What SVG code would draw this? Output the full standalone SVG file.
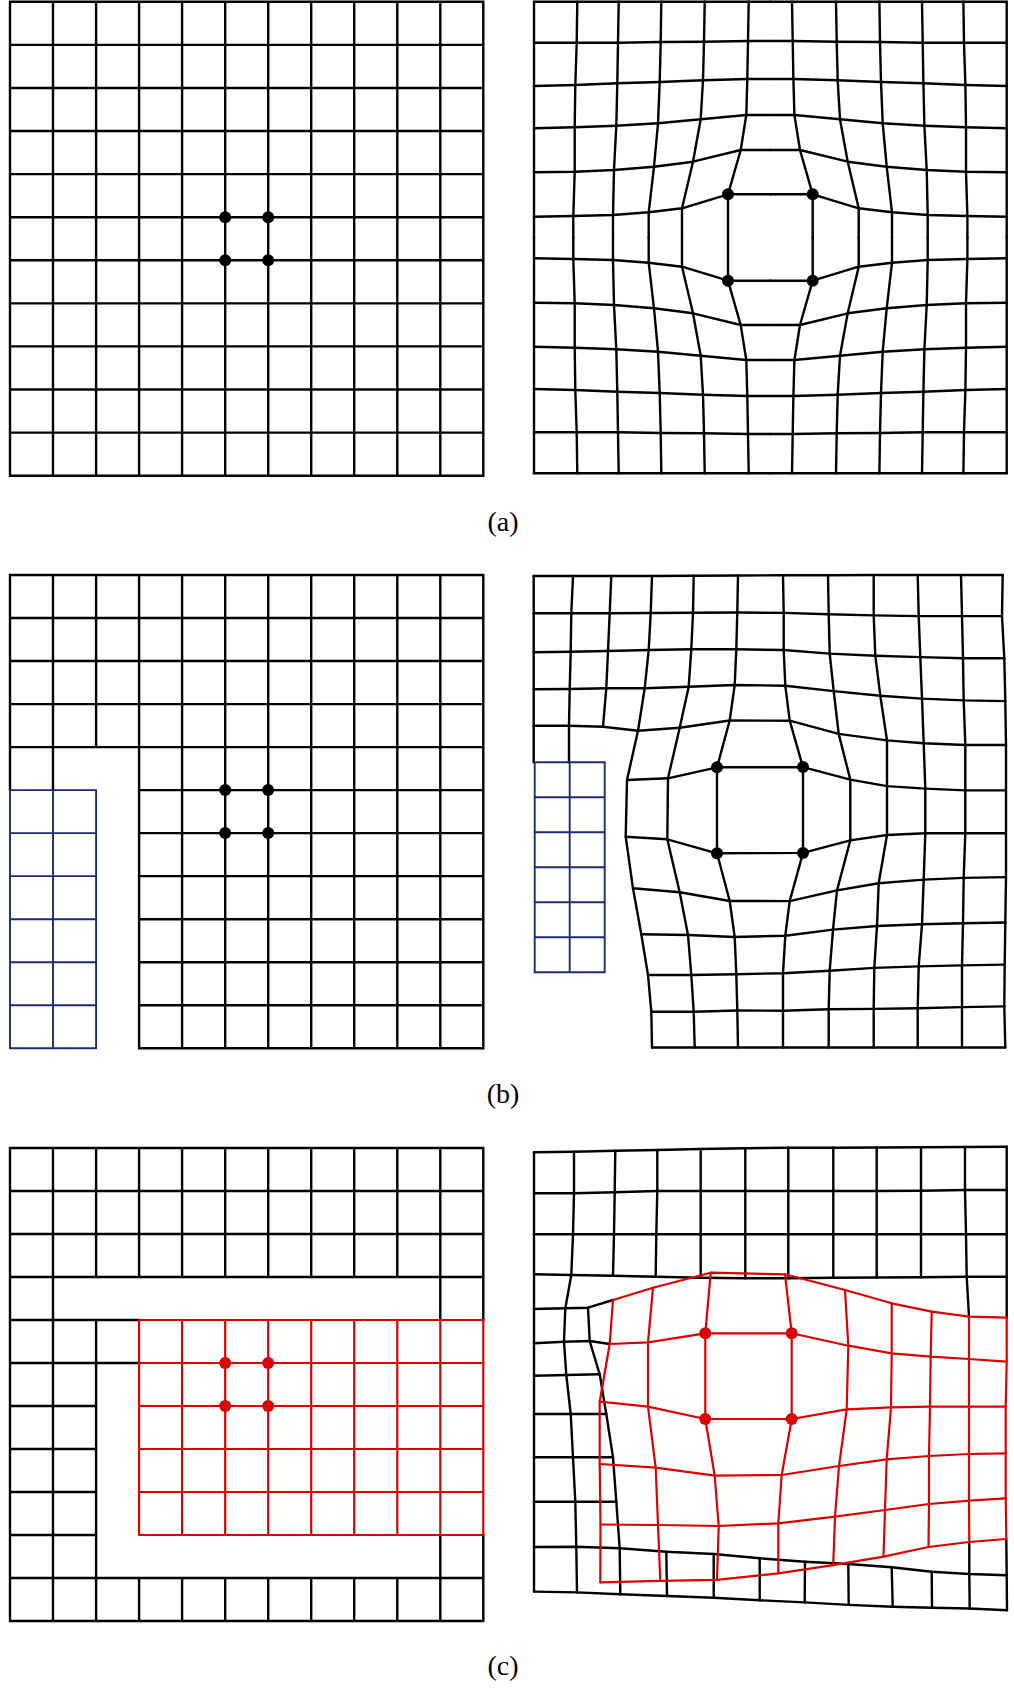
<svg xmlns="http://www.w3.org/2000/svg" xmlns:xlink="http://www.w3.org/1999/xlink" width="1014" height="1692" viewBox="0 0 1014 1692">
<style>
.k{fill:none;stroke:#000;stroke-width:2.4;stroke-linejoin:round;stroke-linecap:square}
.kr{fill:none;stroke:#000;stroke-width:2.4;stroke-linejoin:round;stroke-linecap:round}
.r{fill:none;stroke:#dc0000;stroke-width:2.2;stroke-linejoin:round;stroke-linecap:round}
.rs{fill:none;stroke:#dc0000;stroke-width:2.2;stroke-linecap:square}
.b{fill:none;stroke:#1c2a78;stroke-width:1.9;stroke-linecap:square}
.dk{fill:#000}
.dr{fill:#dc0000}
.lbl{font-family:"Liberation Serif","Times New Roman",serif;font-size:28px;text-anchor:middle;fill:#000}
</style>
<defs>
<g id="aq" class="kr">
<polyline points="534,1.7 770.35,1.7"/>
<polyline points="534,42.7 576.7,42.7 618,42.7 660.7,42 704,41.7 748,41 770.35,41"/>
<polyline points="534,86 575.3,85 617.3,83.3 659.7,82 703,80.3 747.3,79 770.35,79"/>
<polyline points="534,128.3 574.7,127.3 616.3,125.7 658,123.3 700.7,119.3 746.3,115 770.35,115"/>
<polyline points="534,172.3 574.7,171.7 614,170 654,166.7 693,161.7 740.7,150 770.35,150"/>
<polyline points="534,216.7 573.3,216 613,215 648.7,212.3 682,208.3 728,194.3 770.35,194.3"/>
<polyline points="534,1.7 534,237.5"/>
<polyline points="577.3,1.7 576.7,42.7 575.3,85 574.7,127.3 574.7,171.7 573.3,216 573.3,237.5"/>
<polyline points="618.7,1.7 618,42.7 617.3,83.3 616.3,125.7 614,170 613,215 613,237.5"/>
<polyline points="661.3,1.7 660.7,42 659.7,82 658,123.3 654,166.7 648.7,212.3 648.7,237.5"/>
<polyline points="704.7,1.7 704,41.7 703,80.3 700.7,119.3 693,161.7 682,208.3 682,237.5"/>
<polyline points="748.7,1.7 748,41 747.3,79 746.3,115 740.7,150 728,194.3 728,237.5"/>
</g>
</defs>

<g id="panel-a-left">
<path class="k" d="M10 1.8H483.3M10 44.9H483.3M10 88H483.3M10 131H483.3M10 174.1H483.3M10 217.2H483.3M10 260.3H483.3M10 303.4H483.3M10 346.4H483.3M10 389.5H483.3M10 432.6H483.3M10 475.7H483.3
M10 1.8V475.7M53 1.8V475.7M96.1 1.8V475.7M139.1 1.8V475.7M182.1 1.8V475.7M225.2 1.8V475.7M268.2 1.8V475.7M311.2 1.8V475.7M354.2 1.8V475.7M397.3 1.8V475.7M440.3 1.8V475.7M483.3 1.8V475.7"/>
<circle class="dk" cx="225.2" cy="217.2" r="6"/><circle class="dk" cx="268.2" cy="217.2" r="6"/>
<circle class="dk" cx="225.2" cy="260.3" r="6"/><circle class="dk" cx="268.2" cy="260.3" r="6"/>
</g>

<g id="panel-a-right">
<use xlink:href="#aq" href="#aq"/>
<use xlink:href="#aq" href="#aq" transform="matrix(-1 0 0 1 1540.7 0)"/>
<use xlink:href="#aq" href="#aq" transform="matrix(1 0 0 -1 0 475)"/>
<use xlink:href="#aq" href="#aq" transform="matrix(-1 0 0 -1 1540.7 475)"/>
<circle class="dk" cx="728" cy="194.3" r="6"/><circle class="dk" cx="812.7" cy="194.3" r="6"/>
<circle class="dk" cx="728" cy="280.7" r="6"/><circle class="dk" cx="812.7" cy="280.7" r="6"/>
</g>

<g id="panel-b-left">
<path class="k" d="M10 575H483.3M10 618H483.3M10 661H483.3M10 704.1H483.3M10 747.1H483.3
M139.1 790.1H483.3M139.1 833.1H483.3M139.1 876.1H483.3M139.1 919.2H483.3M139.1 962.2H483.3M139.1 1005.2H483.3M139.1 1048.2H483.3
M10 575V790.1M53 575V790.1M96.1 575V747.1
M139.1 575V1048.2M182.1 575V1048.2M225.2 575V1048.2M268.2 575V1048.2M311.2 575V1048.2M354.2 575V1048.2M397.3 575V1048.2M440.3 575V1048.2M483.3 575V1048.2"/>
<path class="b" d="M10 790.1H96.1M10 833.1H96.1M10 876.1H96.1M10 919.2H96.1M10 962.2H96.1M10 1005.2H96.1M10 1048.2H96.1M10 790.1V1048.2M53 790.1V1048.2M96.1 790.1V1048.2"/>
<circle class="dk" cx="225.2" cy="790.1" r="6"/><circle class="dk" cx="268.2" cy="790.1" r="6"/>
<circle class="dk" cx="225.2" cy="833.1" r="6"/><circle class="dk" cx="268.2" cy="833.1" r="6"/>
</g>

<g id="panel-b-right">
<g class="kr">
<polyline points="533.7,576 573,576 611.3,576 652,576 693.7,575.8 738,575.5 783,575.3 828,575.2 873.7,575 917.7,575 961,575 1002.7,575"/>
<polyline points="533.7,613.3 571.3,613.3 609.7,613.3 650.7,613 693,612.7 737.3,612.5 783.7,612.9 828.7,614.3 873.7,615.4 918.7,616.1 962,616.1 1002,616.1"/>
<polyline points="533.7,652.3 570.7,651.7 608,651 648.7,650 691.3,649.3 736.3,649.3 783.7,650 829.7,653.6 875.3,655.7 920.3,657.1 963,658.2 1004.3,658.2"/>
<polyline points="533.7,689.3 569.7,689 606.3,688.3 644.7,688.3 688.7,686.7 734.7,685 785.3,685.7 833.7,691.1 880.3,695.7 922,698.6 963.7,700.4 1005.3,701.1"/>
<polyline points="533.7,725.7 569,725.7 603,726.7 638,730.7 679.7,727.7 729.7,720.5 789.7,720.7 838.7,733.9 887,740.4 923.7,743.2 965.3,745 1006,745"/>
<polyline points="627,780 668,778.3 717,767.3 803,767.1 850.3,779.6 887,786.1 925.3,788.6 965.3,790.4 1006,790.4"/>
<polyline points="625.7,836.7 667.3,839.3 717,853.3 803,852.9 850.3,840.4 887,835 925.3,833.2 965.3,833.2 1006,833.2"/>
<polyline points="633,888.3 679.7,892.3 729.7,901 789.7,901.1 837,890.4 878.7,883.2 923.7,879.6 963.7,877.9 1006,877.1"/>
<polyline points="641.3,934.3 688,935 734.7,937 785.3,935.7 833,929.6 877,926 922,924.3 963,923.2 1005.3,922.5"/>
<polyline points="648,975 691.3,975 736.3,974.2 783,973.2 829.7,970.7 874.3,967.9 918.7,966.4 962,965.4 1004.7,964.6"/>
<polyline points="651.3,1011.7 693.7,1011.7 737.3,1010.5 783,1010.7 828.7,1009.3 873.7,1008.9 917.7,1008.2 962,1007.1 1004.3,1006.4"/>
<polyline points="652,1047.5 694.7,1047.5 738,1047.5 783,1047.5 828.7,1047.5 873.7,1047.5 917.7,1047.5 962,1047.5 1005.3,1047.5"/>
<polyline points="533.7,576 533.7,762.3"/>
<polyline points="573,576 571.3,613.3 570.7,651.7 569.7,689 569,725.7 569,762.3"/>
<polyline points="611.3,576 609.7,613.3 608,651 606.3,688.3 603,726.7"/>
<polyline points="652,576 650.7,613 648.7,650 644.7,688.3 638,730.7 627,780 625.7,836.7 633,888.3 641.3,934.3 648,975 651.3,1011.7 652,1047.5"/>
<polyline points="693.7,575.8 693,612.7 691.3,649.3 688.7,686.7 679.7,727.7 668,778.3 667.3,839.3 679.7,892.3 688,935 691.3,975 693.7,1011.7 694.7,1047.5"/>
<polyline points="738,575.5 737.3,612.5 736.3,649.3 734.7,685 729.7,720.5 717,767.3 717,853.3 729.7,901 734.7,937 736.3,974.2 737.3,1010.5 738,1047.5"/>
<polyline points="783,575.3 783.7,612.9 783.7,650 785.3,685.7 789.7,720.7 803,767.1 803,852.9 789.7,901.1 785.3,935.7 783,973.2 783,1010.7 783,1047.5"/>
<polyline points="828,575.2 828.7,614.3 829.7,653.6 833.7,691.1 838.7,733.9 850.3,779.6 850.3,840.4 837,890.4 833,929.6 829.7,970.7 828.7,1009.3 828.7,1047.5"/>
<polyline points="873.7,575 873.7,615.4 875.3,655.7 880.3,695.7 887,740.4 887,786.1 887,835 878.7,883.2 877,926 874.3,967.9 873.7,1008.9 873.7,1047.5"/>
<polyline points="917.7,575 918.7,616.1 920.3,657.1 922,698.6 923.7,743.2 925.3,788.6 925.3,833.2 923.7,879.6 922,924.3 918.7,966.4 917.7,1008.2 917.7,1047.5"/>
<polyline points="961,575 962,616.1 963,658.2 963.7,700.4 965.3,745 965.3,790.4 965.3,833.2 963.7,877.9 963,923.2 962,965.4 962,1007.1 962,1047.5"/>
<polyline points="1002.7,575 1002,616.1 1004.3,658.2 1005.3,701.1 1006,745 1006,790.4 1006,833.2 1006,877.1 1005.3,922.5 1004.7,964.6 1004.3,1006.4 1005.3,1047.5"/>
</g>
<path class="b" d="M534.7 762.3H604.7M534.7 797.3H604.7M534.7 832.3H604.7M534.7 867.3H604.7M534.7 902.3H604.7M534.7 937.3H604.7M534.7 972.3H604.7M534.7 762.3V972.3M569.7 762.3V972.3M604.7 762.3V972.3"/>
<circle class="dk" cx="717" cy="767.3" r="6"/><circle class="dk" cx="803" cy="767.1" r="6"/>
<circle class="dk" cx="717" cy="853.3" r="6"/><circle class="dk" cx="803" cy="852.9" r="6"/>
</g>

<g id="panel-c-left">
<path class="k" d="M10 1148H483.3M10 1191H483.3M10 1234H483.3M10 1277H483.3
M10 1320H139.1M10 1363H139.1M10 1406H96.1M10 1449H96.1M10 1492H96.1M10 1535H96.1
M10 1578H483.3M10 1621H483.3
M10 1148V1621M53 1148V1621M96.1 1148V1277M96.1 1320V1621
M139.1 1148V1277M182.1 1148V1277M225.2 1148V1277M268.2 1148V1277M311.2 1148V1277M354.2 1148V1277M397.3 1148V1277
M139.1 1578V1621M182.1 1578V1621M225.2 1578V1621M268.2 1578V1621M311.2 1578V1621M354.2 1578V1621M397.3 1578V1621
M440.3 1148V1320M483.3 1148V1320M440.3 1535V1621M483.3 1535V1621"/>
<path class="rs" d="M139.1 1320H483.3M139.1 1363H483.3M139.1 1406H483.3M139.1 1449H483.3M139.1 1492H483.3M139.1 1535H483.3
M139.1 1320V1535M182.1 1320V1535M225.2 1320V1535M268.2 1320V1535M311.2 1320V1535M354.2 1320V1535M397.3 1320V1535M440.3 1320V1535M483.3 1320V1535"/>
<circle class="dr" cx="225.2" cy="1363" r="6"/><circle class="dr" cx="268.2" cy="1363" r="6"/>
<circle class="dr" cx="225.2" cy="1406" r="6"/><circle class="dr" cx="268.2" cy="1406" r="6"/>
</g>

<g id="panel-c-right">
<g class="kr">
<polyline points="534,1152.3 574,1151.7 615.3,1150.7 657.3,1150 700.7,1149 745.3,1148.3 788.3,1147.7 833.3,1147.7 876.7,1147.5 921,1147.3 965,1147 1006.7,1146.7"/>
<polyline points="534,1193.3 574,1193.3 614.7,1192.3 657.3,1191 700.7,1191 745.3,1191 788.3,1191 833.3,1191 876.7,1191 921,1190.7 965,1190 1006.7,1190"/>
<polyline points="534,1234.3 573,1234.3 614,1234.3 656.3,1234.3 700.7,1234.3 745.3,1234.3 788.3,1234.3 833.3,1234.3 876.7,1234.3 921,1234.3 966,1234.3 1006.7,1234.3"/>
<polyline points="534,1274.3 571.3,1275 613,1275.7 655.7,1276.7 700.7,1277.7 745.3,1278.3 788.3,1278.3 833.3,1277.7 876.7,1277.5 921,1277.2 966.7,1276.7 1006.7,1276.7"/>
<polyline points="534,1309 565.3,1308.3 588,1307.7 613,1300"/>
<polyline points="534,1343.3 564,1341.7 589.7,1341 609.7,1344"/>
<polyline points="534,1375.7 566.3,1375 599.7,1374.3"/>
<polyline points="534,1414 570.7,1414 606.3,1414"/>
<polyline points="534,1457.3 573,1457.3 613,1457.3"/>
<polyline points="534,1501.7 575.3,1501.7 616.3,1501.7"/>
<polyline points="534,1547 576.3,1546.7 619.7,1548.3 666.3,1551.7 713.7,1554 759.7,1558.3 805,1561.7 848.3,1564 891.7,1567.3 931.7,1571.7 969.3,1574 1006.7,1575.3"/>
<polyline points="534,1591.6 577,1592.4 620.3,1594.2 667,1596 713.7,1597.7 759.7,1600.3 804.7,1602.4 848.7,1604.9 892.7,1606.7 932,1607.8 969.7,1608.5 1007,1610.3"/>
<polyline points="534,1152.3 534,1591.6"/>
<polyline points="574,1151.7 574,1193.3 573,1234.3 571.3,1275 565.3,1308.3 564,1341.7 566.3,1375 570.7,1414 573,1457.3 575.3,1501.7 576.3,1546.7 577,1592.4"/>
<polyline points="615.3,1150.7 614.7,1192.3 614,1234.3 613,1275.7"/>
<polyline points="588,1307.7 589.7,1341 599.7,1374.3 606.3,1414 613,1457.3 616.3,1501.7 619.7,1548.3 620.3,1594.2"/>
<polyline points="657.3,1150 657.3,1191 656.3,1234.3 655.7,1276.7"/>
<polyline points="700.7,1149 700.7,1191 700.7,1234.3 700.7,1277.7"/>
<polyline points="745.3,1148.3 745.3,1191 745.3,1234.3 745.3,1278.3"/>
<polyline points="788.3,1147.7 788.3,1191 788.3,1234.3 788.3,1278.3"/>
<polyline points="833.3,1147.7 833.3,1191 833.3,1234.3 833.3,1277.7"/>
<polyline points="876.7,1147.5 876.7,1191 876.7,1234.3 876.7,1277.5"/>
<polyline points="921,1147.3 921,1190.7 921,1234.3 921,1277.2"/>
<polyline points="965,1147 965,1190 966,1234.3 966.7,1276.7 969,1316.7"/>
<polyline points="1006.7,1146.7 1006.7,1190 1006.7,1234.3 1006.7,1276.7 1006.7,1317.7"/>
<polyline points="666.3,1551.7 667,1596"/>
<polyline points="713.7,1554 713.7,1597.7"/>
<polyline points="759.7,1558.3 759.7,1600.3"/>
<polyline points="805,1561.7 804.7,1602.4"/>
<polyline points="848.3,1564 848.7,1604.9"/>
<polyline points="891.7,1567.3 892.7,1606.7"/>
<polyline points="931.7,1571.7 932,1607.8"/>
<polyline points="969.3,1542 969.3,1574 969.7,1608.5"/>
<polyline points="1006.3,1539 1006.7,1575.3 1007,1610.3"/>
</g>
<g class="r">
<polyline points="613,1300 653,1287.7 710.7,1272.7 785,1274.3 845,1290 891.7,1303.3 931.7,1311.7 969,1316.7 1006.7,1317.7"/>
<polyline points="609.7,1344 648,1342.3 705.3,1333.3 791.7,1333.3 848.3,1345.7 891.7,1353.3 930.7,1356.7 969,1359 1006.7,1361.7"/>
<polyline points="599.7,1401.7 648,1406.7 705.3,1419 791.7,1419 846.7,1409.3 891,1407.3 930,1406.7 969,1406.7 1005.7,1406.7"/>
<polyline points="599.7,1464 655.7,1467.7 714.7,1475.7 781.7,1475 839,1466 886.7,1459.3 929,1456 969,1454 1005.7,1453.3"/>
<polyline points="600.5,1524.5 658,1525 718.7,1526 778.3,1523.3 835,1516.7 885,1510 929,1504 969,1500.7 1005.7,1498.3"/>
<polyline points="600.3,1582.3 660.3,1580.9 717,1579.8 778.3,1573.3 833.2,1565.2 883.5,1556.6 928.5,1547 969.3,1542 1006.3,1539"/>
<polyline points="613,1300 609.7,1344 599.7,1401.7 599.7,1464 600.5,1524.5 600.3,1582.3"/>
<polyline points="653,1287.7 648,1342.3 648,1406.7 655.7,1467.7 658,1525 660.3,1580.9"/>
<polyline points="710.7,1272.7 705.3,1333.3 705.3,1419 714.7,1475.7 718.7,1526 717,1579.8"/>
<polyline points="785,1274.3 791.7,1333.3 791.7,1419 781.7,1475 778.3,1523.3 778.3,1573.3"/>
<polyline points="845,1290 848.3,1345.7 846.7,1409.3 839,1466 835,1516.7 833.2,1565.2"/>
<polyline points="891.7,1303.3 891.7,1353.3 891,1407.3 886.7,1459.3 885,1510 883.5,1556.6"/>
<polyline points="931.7,1311.7 930.7,1356.7 930,1406.7 929,1456 929,1504 928.5,1547"/>
<polyline points="969,1316.7 969,1359 969,1406.7 969,1454 969,1500.7 969.3,1542"/>
<polyline points="1006.7,1317.7 1006.7,1361.7 1005.7,1406.7 1005.7,1453.3 1005.7,1498.3 1006.3,1539"/>
</g>
<circle class="dr" cx="705.3" cy="1333.3" r="6"/><circle class="dr" cx="791.7" cy="1333.3" r="6"/>
<circle class="dr" cx="705.3" cy="1419" r="6"/><circle class="dr" cx="791.7" cy="1419" r="6"/>
</g>

<g id="labels">
<text class="lbl" x="503" y="531">(a)</text>
<text class="lbl" x="503" y="1103">(b)</text>
<text class="lbl" x="503" y="1675">(c)</text>
</g>
</svg>
